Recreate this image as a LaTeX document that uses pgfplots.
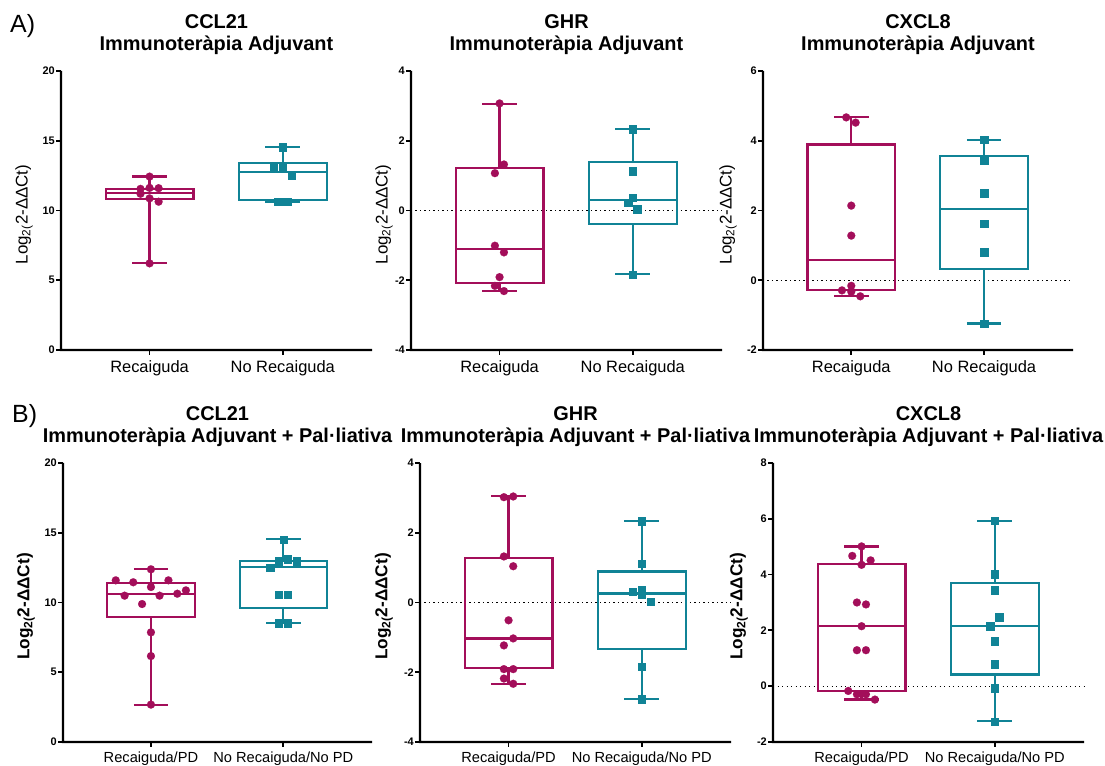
\documentclass[border=0pt]{standalone}
\usepackage{fontspec}
\setmainfont{Liberation Sans}
\usepackage{pgfplots}
\pgfplotsset{compat=1.18}
\usepgfplotslibrary{statistics}
\definecolor{crim}{RGB}{163,14,90}
\definecolor{tealc}{RGB}{16,131,150}
\pgfplotsset{
  prism/.style={
    scale only axis, height=287bp, width=319bp,
    anchor=south west,
    axis x line*=bottom, axis y line*=left,
    axis line style={draw=none}, every tick/.style={draw=none},
    tick align=outside, major tick length=0pt, minor tick num=0,
    xtick={0,1}, xmin=-0.725, xmax=1.67,
    /pgf/number format/assume math mode=true,
    yticklabel style={font=\fontsize{11}{12}\selectfont\bfseries, inner sep=1bp, xshift=3bp},
    clip=false,
    boxplot/draw direction=y,
    every axis title/.style={at={(0.5,1)}, anchor=south, xshift=4bp, yshift=15.8bp, inner sep=0pt, align=center, font=\fontsize{20}{22}\selectfont\bfseries},
  },
  rowA/.style={prism,
    xticklabels={Recaiguda, No Recaiguda},
    xticklabel style={font=\fontsize{16.5}{18}\selectfont, inner sep=0pt, yshift=-2bp},
    ylabel={Log\textsubscript{2(}2-ΔΔCt)},
    every axis y label/.style={at={([xshift=-#1]axis description cs:0,0.5)}, rotate=90, anchor=south, inner sep=0pt, font=\fontsize{17}{20}\selectfont},
  },
  rowB/.style={prism,
    xticklabels={Recaiguda/PD, No Recaiguda/No PD},
    xticklabel style={font=\fontsize{14.7}{16}\selectfont, inner sep=0pt, yshift=-2bp},
    ylabel={Log\textsubscript{2(}2-ΔΔCt)},
    every axis y label/.style={at={([xshift=-#1]axis description cs:0,0.5)}, rotate=90, anchor=south, inner sep=0pt, font=\fontsize{17.3}{20}\selectfont\bfseries},
  },
  axf/.style={fill=black, draw=none, no markers, forget plot},
  axl/.style={black, line width=2.2bp, line join=miter, no markers, forget plot},
  mybox/.style={line width=2.2bp, solid},
  mydots/.style={only marks, mark=*, mark size=4bp, color=crim, mark options={fill=crim, draw=crim, line width=0.1bp, solid}},
  mysqs/.style={only marks, mark=square*, mark size=3.7bp, color=tealc, mark options={fill=tealc, draw=tealc, line width=0.1bp, solid}},
  zeroline/.style={black, line width=1.2bp, dash pattern=on 1.2bp off 3.3bp, forget plot},
}
\begin{document}
\begin{tikzpicture}
\path (0,0) rectangle (1105bp,765bp);
\node[anchor=base west, inner sep=0pt, font=\fontsize{25}{30}\selectfont] at (10bp,732bp) {A)};
\node[anchor=base west, inner sep=0pt, font=\fontsize{25}{30}\selectfont] at (12bp,342bp) {B)};

% ---------- A1 CCL21 ----------
\begin{axis}[rowA=20bp, at={(53bp,407bp)}, ymin=-0.573, ymax=20, ytick={0,5,10,15,20},
  title={CCL21\\Immunoteràpia Adjuvant}]
\addplot[axl] coordinates {(-0.665,20) (-0.665,0) (1.67,0)};
\addplot[axf] coordinates {(-0.6733,20) (-0.6567,20) (-0.6567,0.079) (1.67,0.079) (1.67,-0.079) (-0.6733,-0.079)};
\addplot[axf] coordinates {(-0.7026,-0.0645) (-0.665,-0.0645) (-0.665,0.0645) (-0.7026,0.0645)};
\addplot[axf] coordinates {(-0.7026,4.9355) (-0.665,4.9355) (-0.665,5.0645) (-0.7026,5.0645)};
\addplot[axf] coordinates {(-0.7026,9.9355) (-0.665,9.9355) (-0.665,10.0645) (-0.7026,10.0645)};
\addplot[axf] coordinates {(-0.7026,14.9355) (-0.665,14.9355) (-0.665,15.0645) (-0.7026,15.0645)};
\addplot[axf] coordinates {(-0.7026,19.9355) (-0.665,19.9355) (-0.665,20.0645) (-0.7026,20.0645)};
\addplot[axf] coordinates {(-0.0068,0) (0.0068,0) (0.0068,-0.358) (-0.0068,-0.358)};
\addplot[axf] coordinates {(0.9932,0) (1.0068,0) (1.0068,-0.358) (0.9932,-0.358)};
\addplot[crim, mybox, boxplot prepared={draw position=0, lower whisker=6.21, lower quartile=10.80, median=11.28, upper quartile=11.54, upper whisker=12.43, box extend=0.66, whisker extend=0.26}] coordinates {};
\addplot[tealc, mybox, boxplot prepared={draw position=1, lower whisker=10.63, lower quartile=10.73, median=12.78, upper quartile=13.43, upper whisker=14.55, box extend=0.66, whisker extend=0.26}] coordinates {};
\addplot[mydots] coordinates {(0,12.43) (-0.068,11.55) (0,11.62) (0.068,11.6) (-0.068,11.2) (0,10.87) (0.068,10.63) (0,6.21)};
\addplot[mysqs] coordinates {(1,14.55) (0.932,13.14) (1,13.14) (1.065,12.54) (0.965,10.63) (1.032,10.63)};
\end{axis}

% ---------- A2 GHR ----------
\begin{axis}[rowA=10bp, at={(403bp,407bp)}, ymin=-4.229, ymax=4, ytick={-4,-2,0,2,4},
  title={GHR\\Immunoteràpia Adjuvant}]
\addplot[axl] coordinates {(-0.665,4) (-0.665,-4) (1.67,-4)};
\addplot[axf] coordinates {(-0.6733,4) (-0.6567,4) (-0.6567,-3.9685) (1.67,-3.9685) (1.67,-4.0315) (-0.6733,-4.0315)};
\addplot[axf] coordinates {(-0.7026,-4.0258) (-0.665,-4.0258) (-0.665,-3.9742) (-0.7026,-3.9742)};
\addplot[axf] coordinates {(-0.7026,-2.0258) (-0.665,-2.0258) (-0.665,-1.9742) (-0.7026,-1.9742)};
\addplot[axf] coordinates {(-0.7026,-0.0258) (-0.665,-0.0258) (-0.665,0.0258) (-0.7026,0.0258)};
\addplot[axf] coordinates {(-0.7026,1.9742) (-0.665,1.9742) (-0.665,2.0258) (-0.7026,2.0258)};
\addplot[axf] coordinates {(-0.7026,3.9742) (-0.665,3.9742) (-0.665,4.0258) (-0.7026,4.0258)};
\addplot[axf] coordinates {(-0.0068,-4) (0.0068,-4) (0.0068,-4.143) (-0.0068,-4.143)};
\addplot[axf] coordinates {(0.9932,-4) (1.0068,-4) (1.0068,-4.143) (0.9932,-4.143)};
\addplot[zeroline] coordinates {(-0.665,0) (1.67,0)};
\addplot[crim, mybox, boxplot prepared={draw position=0, lower whisker=-2.30, lower quartile=-2.08, median=-1.10, upper quartile=1.21, upper whisker=3.05, box extend=0.66, whisker extend=0.26}] coordinates {};
\addplot[tealc, mybox, boxplot prepared={draw position=1, lower whisker=-1.83, lower quartile=-0.38, median=0.30, upper quartile=1.40, upper whisker=2.34, box extend=0.66, whisker extend=0.26}] coordinates {};
\addplot[mydots] coordinates {(0,3.07) (0.033,1.32) (-0.035,1.07) (-0.035,-1.01) (0.033,-1.20) (0,-1.91) (-0.035,-2.16) (0.033,-2.31)};
\addplot[mysqs] coordinates {(1,2.34) (1,1.13) (1,0.37) (0.965,0.22) (1.033,0.04) (1,-1.83)};
\end{axis}

% ---------- A3 CXCL8 ----------
\begin{axis}[rowA=18bp, at={(755bp,407bp)}, width=318bp, ymin=-2.229, ymax=6, ytick={-2,0,2,4,6},
  title={CXCL8\\Immunoteràpia Adjuvant}]
\addplot[axl] coordinates {(-0.665,6) (-0.665,-2) (1.67,-2)};
\addplot[axf] coordinates {(-0.6733,6) (-0.6567,6) (-0.6567,-1.9685) (1.67,-1.9685) (1.67,-2.0315) (-0.6733,-2.0315)};
\addplot[axf] coordinates {(-0.7026,-2.0258) (-0.665,-2.0258) (-0.665,-1.9742) (-0.7026,-1.9742)};
\addplot[axf] coordinates {(-0.7026,-0.0258) (-0.665,-0.0258) (-0.665,0.0258) (-0.7026,0.0258)};
\addplot[axf] coordinates {(-0.7026,1.9742) (-0.665,1.9742) (-0.665,2.0258) (-0.7026,2.0258)};
\addplot[axf] coordinates {(-0.7026,3.9742) (-0.665,3.9742) (-0.665,4.0258) (-0.7026,4.0258)};
\addplot[axf] coordinates {(-0.7026,5.9742) (-0.665,5.9742) (-0.665,6.0258) (-0.7026,6.0258)};
\addplot[axf] coordinates {(-0.0068,-2) (0.0068,-2) (0.0068,-2.143) (-0.0068,-2.143)};
\addplot[axf] coordinates {(0.9932,-2) (1.0068,-2) (1.0068,-2.143) (0.9932,-2.143)};
\addplot[zeroline] coordinates {(-0.665,0) (1.67,0)};
\addplot[crim, mybox, boxplot prepared={draw position=0, lower whisker=-0.46, lower quartile=-0.27, median=0.57, upper quartile=3.89, upper whisker=4.67, box extend=0.66, whisker extend=0.26}] coordinates {};
\addplot[tealc, mybox, boxplot prepared={draw position=1, lower whisker=-1.24, lower quartile=0.33, median=2.05, upper quartile=3.57, upper whisker=4.03, box extend=0.66, whisker extend=0.26}] coordinates {};
\addplot[mydots] coordinates {(-0.038,4.67) (0.033,4.52) (0,2.14) (0,1.28) (0,-0.16) (-0.07,-0.29) (0,-0.33) (0.068,-0.46)};
\addplot[mysqs] coordinates {(1,4.03) (1,3.43) (1,2.50) (1,1.62) (1,0.81) (1,-1.24)};
\end{axis}

% ---------- B1 CCL21 ----------
\begin{axis}[rowB=20bp, at={(55bp,15bp)}, width=317bp, ymin=-0.573, ymax=20, ytick={0,5,10,15,20},
  title={CCL21\\Immunoteràpia Adjuvant + Pal·liativa}]
\addplot[axl] coordinates {(-0.665,20) (-0.665,0) (1.67,0)};
\addplot[axf] coordinates {(-0.6733,20) (-0.6567,20) (-0.6567,0.079) (1.67,0.079) (1.67,-0.079) (-0.6733,-0.079)};
\addplot[axf] coordinates {(-0.7026,-0.0645) (-0.665,-0.0645) (-0.665,0.0645) (-0.7026,0.0645)};
\addplot[axf] coordinates {(-0.7026,4.9355) (-0.665,4.9355) (-0.665,5.0645) (-0.7026,5.0645)};
\addplot[axf] coordinates {(-0.7026,9.9355) (-0.665,9.9355) (-0.665,10.0645) (-0.7026,10.0645)};
\addplot[axf] coordinates {(-0.7026,14.9355) (-0.665,14.9355) (-0.665,15.0645) (-0.7026,15.0645)};
\addplot[axf] coordinates {(-0.7026,19.9355) (-0.665,19.9355) (-0.665,20.0645) (-0.7026,20.0645)};
\addplot[axf] coordinates {(-0.0068,0) (0.0068,0) (0.0068,-0.358) (-0.0068,-0.358)};
\addplot[axf] coordinates {(0.9932,0) (1.0068,0) (1.0068,-0.358) (0.9932,-0.358)};
\addplot[crim, mybox, boxplot prepared={draw position=0, lower whisker=2.68, lower quartile=8.96, median=10.63, upper quartile=11.42, upper whisker=12.38, box extend=0.66, whisker extend=0.26}] coordinates {};
\addplot[tealc, mybox, boxplot prepared={draw position=1, lower whisker=8.53, lower quartile=9.63, median=12.52, upper quartile=12.97, upper whisker=14.53, box extend=0.66, whisker extend=0.26}] coordinates {};
\addplot[mydots] coordinates {(0,12.38) (-0.266,11.59) (-0.134,11.45) (0.132,11.59) (0,11.11) (-0.199,10.49) (0.065,10.49) (0.199,10.63) (0.264,10.87) (-0.067,9.89) (0,7.86) (0,6.16) (0,2.68)};
\addplot[mysqs] coordinates {(1,14.53) (0.965,12.97) (1.032,13.12) (1.10,12.97) (0.90,12.52) (0.965,10.59) (1.032,10.59) (0.965,8.53) (1.032,8.53)};
\end{axis}

% ---------- B2 GHR ----------
\begin{axis}[rowB=19bp, at={(412bp,15bp)}, ymin=-4.229, ymax=4, ytick={-4,-2,0,2,4},
  title={GHR\\Immunoteràpia Adjuvant + Pal·liativa}]
\addplot[axl] coordinates {(-0.665,4) (-0.665,-4) (1.67,-4)};
\addplot[axf] coordinates {(-0.6733,4) (-0.6567,4) (-0.6567,-3.9685) (1.67,-3.9685) (1.67,-4.0315) (-0.6733,-4.0315)};
\addplot[axf] coordinates {(-0.7026,-4.0258) (-0.665,-4.0258) (-0.665,-3.9742) (-0.7026,-3.9742)};
\addplot[axf] coordinates {(-0.7026,-2.0258) (-0.665,-2.0258) (-0.665,-1.9742) (-0.7026,-1.9742)};
\addplot[axf] coordinates {(-0.7026,-0.0258) (-0.665,-0.0258) (-0.665,0.0258) (-0.7026,0.0258)};
\addplot[axf] coordinates {(-0.7026,1.9742) (-0.665,1.9742) (-0.665,2.0258) (-0.7026,2.0258)};
\addplot[axf] coordinates {(-0.7026,3.9742) (-0.665,3.9742) (-0.665,4.0258) (-0.7026,4.0258)};
\addplot[axf] coordinates {(-0.0068,-4) (0.0068,-4) (0.0068,-4.143) (-0.0068,-4.143)};
\addplot[axf] coordinates {(0.9932,-4) (1.0068,-4) (1.0068,-4.143) (0.9932,-4.143)};
\addplot[zeroline] coordinates {(-0.665,0) (1.67,0)};
\addplot[crim, mybox, boxplot prepared={draw position=0, lower whisker=-2.33, lower quartile=-1.88, median=-1.03, upper quartile=1.28, upper whisker=3.05, box extend=0.66, whisker extend=0.26}] coordinates {};
\addplot[tealc, mybox, boxplot prepared={draw position=1, lower whisker=-2.77, lower quartile=-1.34, median=0.26, upper quartile=0.89, upper whisker=2.33, box extend=0.66, whisker extend=0.26}] coordinates {};
\addplot[mydots] coordinates {(-0.035,3.02) (0.035,3.04) (-0.035,1.32) (0.035,1.04) (0,-0.51) (0.035,-1.03) (-0.035,-1.23) (-0.035,-1.91) (0.035,-1.91) (-0.035,-2.18) (0.035,-2.33)};
\addplot[mysqs] coordinates {(1,2.33) (1,1.11) (0.933,0.31) (1,0.37) (1,0.23) (1.067,0.03) (1,-1.83) (1,-2.77)};
\end{axis}

% ---------- B3 CXCL8 ----------
\begin{axis}[rowB=17bp, at={(765bp,15bp)}, ymin=-2.287, ymax=8, ytick={-2,0,2,4,6,8},
  title={CXCL8\\Immunoteràpia Adjuvant + Pal·liativa}]
\addplot[axl] coordinates {(-0.665,8) (-0.665,-2) (1.67,-2)};
\addplot[axf] coordinates {(-0.6733,8) (-0.6567,8) (-0.6567,-1.9606) (1.67,-1.9606) (1.67,-2.0394) (-0.6733,-2.0394)};
\addplot[axf] coordinates {(-0.7026,-2.0323) (-0.665,-2.0323) (-0.665,-1.9677) (-0.7026,-1.9677)};
\addplot[axf] coordinates {(-0.7026,-0.0323) (-0.665,-0.0323) (-0.665,0.0323) (-0.7026,0.0323)};
\addplot[axf] coordinates {(-0.7026,1.9677) (-0.665,1.9677) (-0.665,2.0323) (-0.7026,2.0323)};
\addplot[axf] coordinates {(-0.7026,3.9677) (-0.665,3.9677) (-0.665,4.0323) (-0.7026,4.0323)};
\addplot[axf] coordinates {(-0.7026,5.9677) (-0.665,5.9677) (-0.665,6.0323) (-0.7026,6.0323)};
\addplot[axf] coordinates {(-0.7026,7.9677) (-0.665,7.9677) (-0.665,8.0323) (-0.7026,8.0323)};
\addplot[axf] coordinates {(-0.0068,-2) (0.0068,-2) (0.0068,-2.179) (-0.0068,-2.179)};
\addplot[axf] coordinates {(0.9932,-2) (1.0068,-2) (1.0068,-2.179) (0.9932,-2.179)};
\addplot[zeroline] coordinates {(-0.665,0) (1.67,0)};
\addplot[crim, mybox, boxplot prepared={draw position=0, lower whisker=-0.48, lower quartile=-0.18, median=2.15, upper quartile=4.39, upper whisker=5.01, box extend=0.66, whisker extend=0.26}] coordinates {};
\addplot[tealc, mybox, boxplot prepared={draw position=1, lower whisker=-1.26, lower quartile=0.42, median=2.16, upper quartile=3.69, upper whisker=5.93, box extend=0.66, whisker extend=0.26}] coordinates {};
\addplot[mydots] coordinates {(0,5.01) (-0.07,4.67) (0.068,4.51) (0,4.35) (-0.035,3.00) (0.033,2.93) (0,2.15) (-0.035,1.29) (0.033,1.29) (-0.10,-0.17) (-0.035,-0.29) (0.033,-0.29) (0.10,-0.48)};
\addplot[mysqs] coordinates {(1,5.93) (1,4.02) (1,3.44) (1.033,2.48) (0.965,2.16) (1,1.62) (1,0.79) (1,-0.06) (1,-1.26)};
\end{axis}
\end{tikzpicture}
\end{document}
